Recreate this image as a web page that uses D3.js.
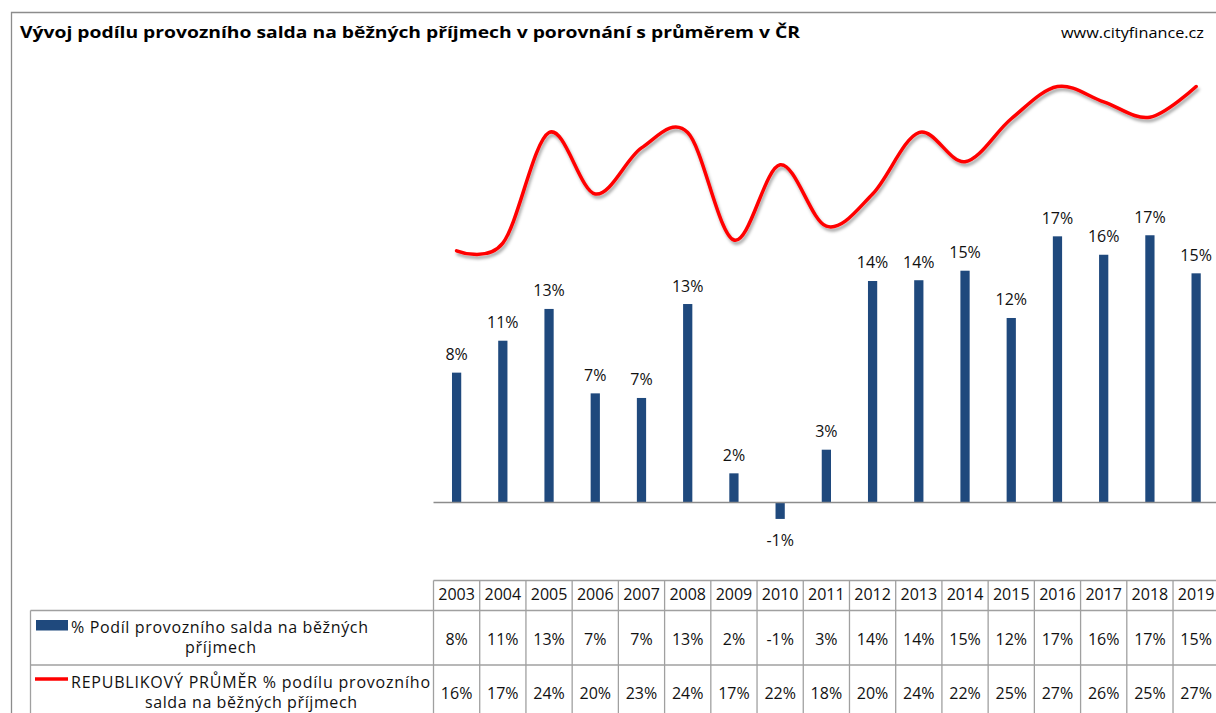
<!DOCTYPE html>
<html>
<head>
<meta charset="utf-8">
<script src="https://cdn.jsdelivr.net/npm/d3@7"></script>
<style>
  body { margin: 0; background: #fff; }
  svg { display: block; font-family: "Open Sans", Lato, sans-serif; }
</style>
</head>
<body>
<div id="chart"></div>
<script>
// data (percent)
var years = ["2003","2004","2005","2006","2007","2008","2009","2010","2011","2012","2013","2014","2015","2016","2017","2018","2019"];
var podil = [8.46, 10.54, 12.61, 7.11, 6.81, 12.93, 1.90, -1.07, 3.44, 14.43, 14.48, 15.10, 12.02, 17.34, 16.14, 17.41, 14.93];
var prumer = [16.4, 16.9, 24.1, 20.1, 23.1, 24.1, 17.1, 22.0, 18.0, 20.1, 24.1, 22.2, 25.0, 27.1, 26.1, 25.1, 27.1];
var seriesNames = ["% Podíl provozního salda na běžných", "příjmech"];
var lineNames = ["REPUBLIKOVÝ PRŮMĚR % podílu provozního", "salda na běžných příjmech"];
var title = "Vývoj podílu provozního salda na běžných příjmech v porovnání s průměrem v ČR";
var source = "www.cityfinance.cz";

var width = 1216, height = 713;
var barColor = "#1f497d", lineColor = "#ff0000", gridColor = "#a0a0a0";
var fs = 16;

var svg = d3.select("#chart").append("svg")
    .attr("width", width)
    .attr("height", height);

var defs = svg.append("defs");
var shadow = defs.append("filter").attr("id", "shadow")
    .attr("x", "-5%").attr("y", "-20%").attr("width", "110%").attr("height", "140%");
shadow.append("feDropShadow")
    .attr("dx", 1.5).attr("dy", 3).attr("stdDeviation", 1.6)
    .attr("flood-color", "#000").attr("flood-opacity", 0.35);

// outer frame
svg.append("path")
    .attr("d", "M11.5," + height + "V12.5H" + width)
    .attr("fill", "none")
    .attr("stroke", "#8c8c8c")
    .attr("stroke-width", 1.3);

svg.append("text")
    .attr("x", 20).attr("y", 38)
    .attr("font-weight", "bold")
    .attr("font-size", 16.5)
    .attr("textLength", 780)
    .attr("lengthAdjust", "spacingAndGlyphs")
    .text(title);

svg.append("text")
    .attr("x", 1061).attr("y", 38)
    .attr("font-size", 15)
    .attr("textLength", 143)
    .attr("lengthAdjust", "spacingAndGlyphs")
    .text(source);

// scales
var x = d3.scaleBand()
    .domain(years)
    .range([433.5, 433.5 + 46.22 * years.length]);

var y = d3.scaleLinear()
    .domain([0, 20])
    .range([502.5, 195.5]);

var barW = x.bandwidth() * 0.2;

// bars
svg.append("g").selectAll("rect")
    .data(podil)
    .enter()
    .append("rect")
    .attr("x", (d, i) => x(years[i]) + x.bandwidth() / 2 - barW / 2)
    .attr("y", d => Math.min(y(d), y(0)))
    .attr("width", barW)
    .attr("height", d => Math.abs(y(d) - y(0)))
    .attr("fill", barColor);

// zero axis
svg.append("line")
    .attr("x1", x.range()[0]).attr("x2", width)
    .attr("y1", y(0)).attr("y2", y(0))
    .attr("stroke", "#8c8c8c")
    .attr("stroke-width", 1.3);

// bar labels
svg.append("g").selectAll("text")
    .data(podil)
    .enter()
    .append("text")
    .attr("x", (d, i) => x(years[i]) + x.bandwidth() / 2)
    .attr("y", d => d >= 0 ? y(d) - 12.5 : y(d) + 27)
    .attr("text-anchor", "middle")
    .attr("font-size", fs)
    .attr("fill", "#111")
    .text(d => Math.round(d) + "%");

// smoothed line
var line = d3.line()
    .x((d, i) => x(years[i]) + x.bandwidth() / 2)
    .y(d => y(d))
    .curve(d3.curveCardinal.tension(0));

svg.append("path")
    .datum(prumer)
    .attr("d", line)
    .attr("fill", "none")
    .attr("stroke", lineColor)
    .attr("stroke-width", 3.5)
    .attr("stroke-linecap", "round")
    .attr("filter", "url(#shadow)");

// data table
var tableTop = 580.5, headBottom = 610.5, row1Bottom = 665, legendLeft = 30.5;
var tbl = svg.append("g").attr("stroke", gridColor).attr("stroke-width", 1.3);
var xl = x.range()[0];
tbl.append("line").attr("x1", xl).attr("x2", width).attr("y1", tableTop).attr("y2", tableTop);
tbl.append("line").attr("x1", legendLeft).attr("x2", width).attr("y1", headBottom).attr("y2", headBottom);
tbl.append("line").attr("x1", legendLeft).attr("x2", width).attr("y1", row1Bottom).attr("y2", row1Bottom);
tbl.append("line").attr("x1", legendLeft).attr("x2", legendLeft).attr("y1", headBottom).attr("y2", height);
tbl.selectAll(".col")
    .data(years)
    .enter()
    .append("line")
    .attr("x1", d => x(d)).attr("x2", d => x(d))
    .attr("y1", tableTop).attr("y2", height);
tbl.append("line")
    .attr("x1", x.range()[1]).attr("x2", x.range()[1])
    .attr("y1", tableTop).attr("y2", height);

var cellText = svg.append("g").attr("font-size", fs).attr("fill", "#111").attr("text-anchor", "middle");
cellText.selectAll(".yr")
    .data(years)
    .enter()
    .append("text")
    .attr("x", d => x(d) + x.bandwidth() / 2)
    .attr("y", 600)
    .text(d => d);
cellText.selectAll(".v1")
    .data(podil)
    .enter()
    .append("text")
    .attr("x", (d, i) => x(years[i]) + x.bandwidth() / 2)
    .attr("y", 645)
    .text(d => Math.round(d) + "%");
cellText.selectAll(".v2")
    .data(prumer)
    .enter()
    .append("text")
    .attr("x", (d, i) => x(years[i]) + x.bandwidth() / 2)
    .attr("y", 699)
    .text(d => Math.round(d) + "%");

// legend keys and names
svg.append("rect")
    .attr("x", 36).attr("y", 620)
    .attr("width", 32).attr("height", 10.5)
    .attr("fill", barColor);
svg.append("line")
    .attr("x1", 35).attr("x2", 68)
    .attr("y1", 679).attr("y2", 679)
    .attr("stroke", lineColor)
    .attr("stroke-width", 3.5);

var leg = svg.append("g").attr("font-size", fs).attr("fill", "#111").attr("lengthAdjust", "spacingAndGlyphs");
leg.append("text").attr("x", 71).attr("y", 633).attr("textLength", 297).text(seriesNames[0]);
leg.append("text").attr("x", 185).attr("y", 653).attr("textLength", 71).text(seriesNames[1]);
leg.append("text").attr("x", 71).attr("y", 688).attr("textLength", 359).text(lineNames[0]);
leg.append("text").attr("x", 145).attr("y", 708).attr("textLength", 212).text(lineNames[1]);
</script>
</body>
</html>
